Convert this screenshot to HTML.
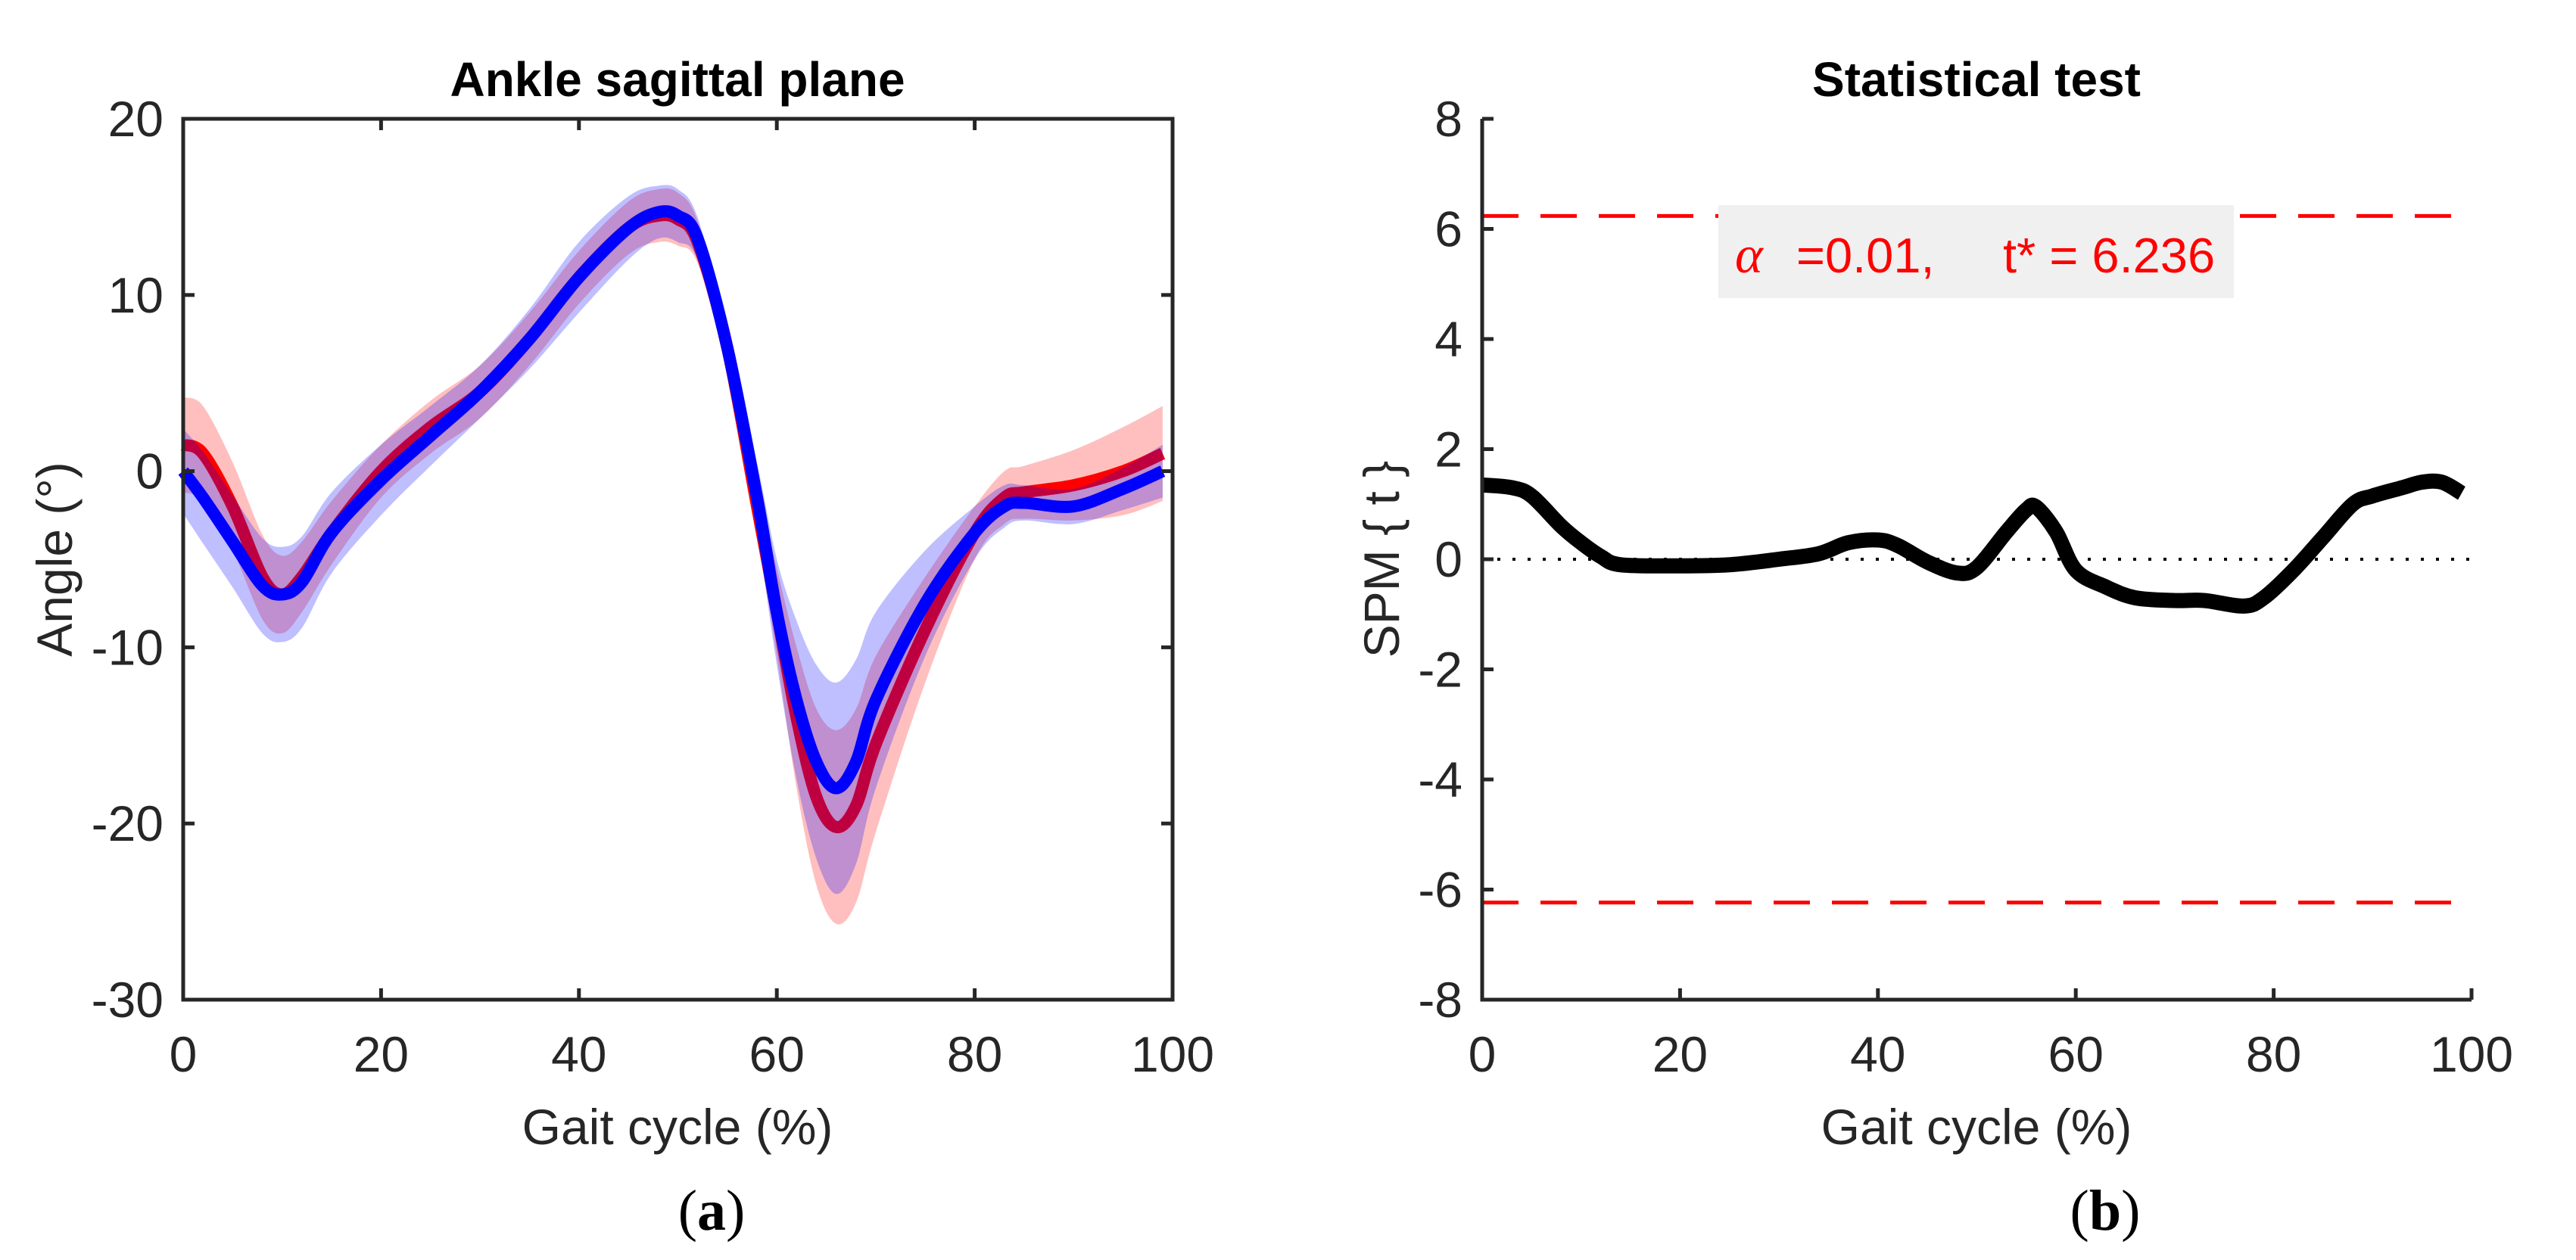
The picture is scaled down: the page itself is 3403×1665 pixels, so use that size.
<!DOCTYPE html>
<html><head><meta charset="utf-8"><style>
html,body{margin:0;padding:0;background:#fff;}
svg{display:block;}
text{font-family:"Liberation Sans",sans-serif;}
</style></head>
<body>
<svg id="fig" width="3403" height="1665" viewBox="0 0 3403 1665" xmlns="http://www.w3.org/2000/svg">
<rect width="3403" height="1665" fill="#fff"/>
<g id="pa"></g>
<g id="pb"></g>
<text x="895" y="127" text-anchor="middle" font-size="64" font-weight="bold" fill="#000">Ankle sagittal plane</text>
<text x="2611" y="127" text-anchor="middle" font-size="64" font-weight="bold" fill="#000">Statistical test</text>
<text x="895" y="1512" text-anchor="middle" font-size="66" fill="#262626">Gait cycle (%)</text>
<text x="2611" y="1512" text-anchor="middle" font-size="66" fill="#262626">Gait cycle (%)</text>
<text transform="translate(95,739) rotate(-90)" text-anchor="middle" font-size="66" fill="#262626">Angle (°)</text>
<text transform="translate(1848,739) rotate(-90)" text-anchor="middle" font-size="66" fill="#262626">SPM { t }</text>
<text x="940" y="1625" text-anchor="middle" font-size="76" fill="#000" style="font-family:'Liberation Serif',serif">(<tspan font-weight="bold">a</tspan>)</text>
<text x="2781" y="1625" text-anchor="middle" font-size="76" fill="#000" style="font-family:'Liberation Serif',serif">(<tspan font-weight="bold">b</tspan>)</text>
</svg>
<script>
const xs = [0,2,5,8,10,12,15,20,25,30,35,40,45,48,50,52,55,58,60,62,64,66,68,70,75,80,83,85,90,95,99];
const redMean = [1.5,1.0,-2,-6,-7,-6,-3.5,0,2.5,4.5,7.5,11,13.8,14.5,14.3,13,7,-2,-8,-14,-18.5,-20.2,-19,-15.5,-9,-3.5,-1.5,-1.2,-0.8,0,1];
const redSd = [2.7,2.7,2.5,2.4,2.2,2,1.8,1.5,1.5,1.5,1.5,1.5,1.5,1.5,1.5,1.2,1,1.5,2.5,4,5,5.5,5.5,5,3,1.5,1.5,1.5,2,2.5,2.7];
const blueMean = [0,-1.5,-4,-6.5,-7,-6.3,-3.5,-0.5,2,4.5,7.5,11,13.8,14.7,14.5,13.2,7,-1.5,-8,-13,-16.5,-18,-16.5,-13,-7.5,-3.5,-2,-1.8,-2,-1,0];
const blueSd = [2.4,2.6,2.6,2.7,2.7,2.6,2.3,2,1.7,1.5,1.7,2,1.8,1.5,1.5,1.2,1,2,3,4.5,5.5,6,5.8,5,3,1.5,1.2,1,1,1.2,1.5];
const spmX = [0,3,5,8,10,12,14,20,25,30,34,37,40,42,45,48,50,53,55,56,58,60,63,66,70,73,77,79,82,85,88,90,93,95,97,99];
const spmT = [1.35,1.3,1.15,0.6,0.3,0.05,-0.1,-0.12,-0.1,0,0.1,0.3,0.35,0.25,-0.05,-0.25,-0.15,0.5,0.9,0.95,0.5,-0.2,-0.5,-0.7,-0.75,-0.75,-0.85,-0.7,-0.2,0.4,1.0,1.15,1.3,1.4,1.4,1.2];
const tStar = 6.236;
const xTicks = [0,20,40,60,80,100];
const yTicksA = [20,10,0,-10,-20,-30];
const yTicksB = [8,6,4,2,0,-2,-4,-6,-8];

const NS='http://www.w3.org/2000/svg';
function mk(parent,tag,attrs){const e=document.createElementNS(NS,tag);for(const k in attrs)e.setAttribute(k,attrs[k]);parent.appendChild(e);return e;}
const L=242,R=1549,T=157,B=1321, L2=1958,R2=3265;
const xa=v=>L+(v/100)*(R-L), ya=v=>T+(20-v)/50*(B-T);
const xb=v=>L2+(v/100)*(R2-L2), yb=v=>T+(8-v)/16*(B-T);
function smoothPath(px,py){let d='M'+px[0]+','+py[0];for(let i=0;i<px.length-1;i++){const x0=px[i-1]??px[i],y0=py[i-1]??py[i],x1=px[i],y1=py[i],x2=px[i+1],y2=py[i+1],x3=px[i+2]??x2,y3=py[i+2]??y2;d+=' C'+(x1+(x2-x0)/6)+','+(y1+(y2-y0)/6)+' '+(x2-(x3-x1)/6)+','+(y2-(y3-y1)/6)+' '+x2+','+y2;}return d;}
function bandPath(m,s){const px=xs.map(xa);const up=smoothPath(px,m.map((v,i)=>ya(v+s[i])));const lo=smoothPath(px.slice().reverse(),m.map((v,i)=>ya(v-s[i])).reverse());return up+' L'+lo.slice(1)+' Z';}
const pa=document.getElementById('pa'), pb=document.getElementById('pb');

let e;
e=mk(pa,'path',{d:bandPath(redMean,redSd),fill:'#ff0000','fill-opacity':0.25});


e=mk(pa,'path',{d:smoothPath(xs.map(xa),redMean.map(ya)),fill:'none',stroke:'#ff0000','stroke-width':16,'stroke-linejoin':'round'});


e=mk(pa,'path',{d:bandPath(blueMean,blueSd),fill:'#0000ff','fill-opacity':0.25});


e=mk(pa,'path',{d:smoothPath(xs.map(xa),blueMean.map(ya)),fill:'none',stroke:'#0000ff','stroke-width':16,'stroke-linejoin':'round'});


e=mk(pa,'rect',{x:L,y:T,width:R-L,height:B-T,fill:'none',stroke:'#262626','stroke-width':5});


xTicks.forEach(v=>{
  mk(pa,'line',{x1:xa(v),x2:xa(v),y1:B,y2:B-15,stroke:'#262626','stroke-width':5});
  mk(pa,'line',{x1:xa(v),x2:xa(v),y1:T,y2:T+15,stroke:'#262626','stroke-width':5});
  e=mk(pa,'text',{x:xa(v),y:1416,'text-anchor':'middle','font-size':66,fill:'#262626'});e.textContent=v;
  
  
});
yTicksA.forEach(v=>{
  mk(pa,'line',{x1:L,x2:L+15,y1:ya(v),y2:ya(v),stroke:'#262626','stroke-width':5});
  mk(pa,'line',{x1:R,x2:R-15,y1:ya(v),y2:ya(v),stroke:'#262626','stroke-width':5});
  e=mk(pa,'text',{x:L-26,y:ya(v)+23,'text-anchor':'end','font-size':66,fill:'#262626'});e.textContent=v;
  
  
});

// panel b
e=mk(pb,'line',{x1:xb(0),x2:xb(100),y1:yb(0),y2:yb(0),stroke:'#000','stroke-width':4,'stroke-dasharray':'4 16'});


[tStar,-tStar].forEach(v=>{
  e=mk(pb,'line',{x1:xb(0),x2:xb(100),y1:yb(v),y2:yb(v),stroke:'#ff0000','stroke-width':5,'stroke-dasharray':'48 29'});
  
  
});
e=mk(pb,'path',{d:smoothPath(spmX.map(xb),spmT.map(yb)),fill:'none',stroke:'#000','stroke-width':20,'stroke-linejoin':'round'});


e=mk(pb,'rect',{x:2270,y:271,width:681,height:123,fill:'#f0f0f0'});


e=mk(pb,'text',{x:2292,y:360,'font-size':70,fill:'#ff0000','font-style':'italic',style:"font-family:'Liberation Serif',serif"});e.textContent='α';


e=mk(pb,'text',{x:2373,y:360,'font-size':65,fill:'#ff0000'});e.textContent='=0.01,';


e=mk(pb,'text',{x:2646,y:360,'font-size':65,fill:'#ff0000'});e.textContent='t* = '+tStar;


e=mk(pb,'polyline',{points:`${L2},${T} ${L2},${B} ${R2},${B}`,fill:'none',stroke:'#262626','stroke-width':5});


xTicks.forEach(v=>{
  mk(pb,'line',{x1:xb(v),x2:xb(v),y1:B,y2:B-15,stroke:'#262626','stroke-width':5});
  e=mk(pb,'text',{x:xb(v),y:1416,'text-anchor':'middle','font-size':66,fill:'#262626'});e.textContent=v;
  
  
});
yTicksB.forEach(v=>{
  mk(pb,'line',{x1:L2,x2:L2+15,y1:yb(v),y2:yb(v),stroke:'#262626','stroke-width':5});
  e=mk(pb,'text',{x:L2-26,y:yb(v)+23,'text-anchor':'end','font-size':66,fill:'#262626'});e.textContent=v;
  
  
});
</script>
</body></html>
